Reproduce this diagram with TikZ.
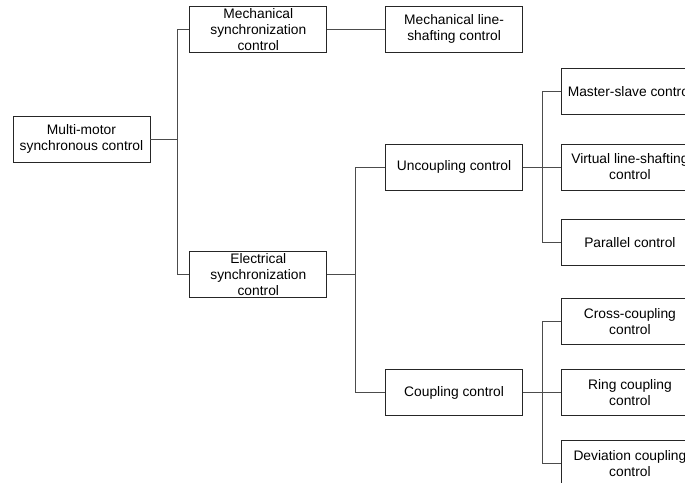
\documentclass[tikz,border=0pt]{standalone}
\usepackage{fontspec}
\setmainfont{Liberation Sans}
\usetikzlibrary{positioning}
\begin{document}
\begin{tikzpicture}[every node/.style={draw=black!85, rectangle, align=center, minimum width=137pt, minimum height=46pt, inner sep=1pt, font=\fontsize{13.8}{16}\selectfont}, line width=0.8pt, draw=black!70]
   \useasboundingbox (-81.5pt,-343pt) rectangle (603.5pt,139pt);
   \node     (MM)                                     {Multi-motor\\synchronous control};
   \node     (MEC) [above right=63pt and 39pt of MM]  {Mechanical\\synchronization\\control};
   \node     (ELE) [below right=89pt and 39pt of MM]  {Electrical\\synchronization\\control};
   \node     (MLS) [right=58pt of MEC]                {Mechanical line-\\shafting control};
   \node     (UNC) [above right=61pt and 58pt of ELE] {Uncoupling control};
   \node     (COU) [below right=71pt and 58pt of ELE] {Coupling control};
   \node     (VLS) [right=38pt of UNC]                {Virtual line-shafting\\control};
   \node     (MAS) [above=29pt of VLS]                {Master-slave control};
   \node     (PAR) [below=29pt of VLS]                {Parallel control};
   \node     (RIN) [right=38pt of COU]                {Ring coupling\\control};
   \node     (CRO) [above=24pt of RIN]                {Cross-coupling\\control};
   \node     (DEV) [below=24pt of RIN]                {Deviation coupling\\control};
   \draw (MM.east) -- ++(27pt,0) |- (MEC.west);
   \draw (MM.east) -- ++(27pt,0) |- (ELE.west);
   \draw (MEC) -- (MLS);
   \draw (ELE.east) -- ++(28pt,0) |- (UNC.west);
   \draw (ELE.east) -- ++(28pt,0) |- (COU.west);
   \draw (UNC) -- (VLS);
   \draw (UNC.east) -- ++(19pt,0) |- (MAS.west);
   \draw (UNC.east) -- ++(19pt,0) |- (PAR.west);
   \draw (COU) -- (RIN);
   \draw (COU.east) -- ++(19pt,0) |- (CRO.west);
   \draw (COU.east) -- ++(19pt,0) |- (DEV.west);
 \end{tikzpicture}
\end{document}
